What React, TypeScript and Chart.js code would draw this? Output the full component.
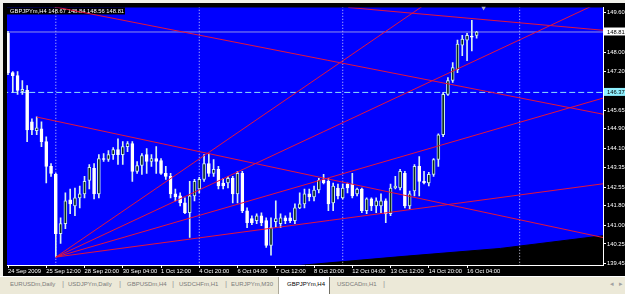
import React, { useEffect, useRef } from 'react';
import { Chart, registerables } from 'chart.js';

Chart.register(...registerables);

// ---- data (GBPJPYm, H4) ----
const OPEN = [148.76, 147.17, 147.05, 146.41, 146.45, 145.18, 144.82, 144.90, 144.38, 143.38,
  143.06, 140.67, 141.07, 142.03, 141.79, 142.11, 142.27, 142.82, 143.30, 142.27,
  143.70, 143.66, 143.86, 144.06, 143.86, 144.18, 144.30, 143.18, 143.42, 143.86,
  143.58, 143.70, 143.62, 143.10, 142.98, 142.27, 142.19, 141.91, 141.51, 142.19,
  142.47, 142.86, 143.50, 143.10, 143.26, 142.71, 142.71, 142.90, 142.27, 143.10,
  141.59, 141.27, 141.19, 141.39, 141.19, 140.19, 141.15, 141.07, 141.31, 141.31,
  141.19, 141.71, 141.87, 142.27, 142.15, 142.43, 142.82, 142.78, 141.91, 142.51,
  142.11, 142.67, 142.67, 142.27, 142.47, 141.59, 142.07, 141.79, 141.79, 141.99,
  141.47, 142.51, 142.51, 143.10, 141.79, 142.39, 143.38, 142.78, 142.71, 143.06,
  143.66, 144.66, 146.29, 146.85, 147.29, 148.28, 148.48, 148.64, 148.67];
const HIGH = [148.84, 147.21, 147.21, 146.85, 146.65, 145.30, 145.38, 145.18, 144.58, 143.50,
  143.10, 141.31, 142.31, 142.47, 142.51, 142.59, 142.98, 143.46, 143.50, 143.86,
  143.90, 144.02, 144.14, 144.50, 144.38, 144.38, 144.38, 143.58, 143.90, 144.10,
  143.86, 144.18, 143.70, 143.38, 143.10, 142.47, 142.31, 142.11, 142.78, 142.86,
  142.94, 143.86, 143.90, 143.66, 143.38, 142.90, 142.98, 142.98, 143.18, 143.18,
  141.71, 141.39, 141.47, 141.51, 141.31, 141.31, 141.99, 141.47, 141.39, 141.51,
  141.87, 142.31, 142.47, 142.47, 142.59, 142.90, 143.06, 142.90, 142.71, 142.67,
  142.67, 142.71, 143.10, 142.51, 142.51, 142.11, 142.11, 142.11, 142.27, 142.07,
  142.67, 142.98, 143.26, 143.18, 142.39, 143.46, 143.78, 143.18, 143.14, 143.70,
  144.70, 146.37, 146.97, 147.57, 148.48, 148.68, 148.76, 149.28, 148.84];
const LOW = [147.09, 146.37, 146.29, 146.29, 144.38, 144.66, 144.66, 144.18, 142.71, 142.98,
  139.72, 140.27, 140.87, 141.47, 141.39, 141.71, 142.11, 142.47, 142.07, 142.11,
  143.58, 143.58, 143.66, 143.46, 143.46, 143.98, 142.78, 143.10, 143.06, 143.10,
  143.38, 143.10, 143.06, 142.86, 142.11, 141.99, 141.79, 141.47, 140.51, 141.99,
  142.31, 142.78, 142.98, 142.98, 142.47, 142.47, 142.51, 141.91, 141.91, 141.51,
  140.91, 141.03, 141.07, 140.99, 140.11, 139.80, 140.91, 140.91, 141.07, 141.11,
  141.07, 141.67, 141.71, 141.99, 141.99, 142.31, 142.67, 141.59, 141.59, 142.07,
  142.07, 142.31, 142.11, 142.19, 141.51, 141.47, 141.59, 141.51, 141.51, 141.11,
  141.39, 142.47, 142.43, 141.71, 141.67, 142.19, 142.19, 142.67, 142.59, 142.98,
  143.38, 144.58, 146.25, 146.77, 147.17, 147.85, 147.65, 148.05, 148.56];
const CLOSE = [147.17, 147.05, 146.45, 146.49, 144.86, 144.86, 144.94, 144.38, 143.38, 143.10,
  140.67, 141.07, 141.99, 141.87, 142.11, 142.27, 142.78, 143.34, 142.27, 143.70,
  143.66, 143.86, 144.06, 143.86, 144.18, 144.30, 143.18, 143.42, 143.82, 143.58,
  143.70, 143.58, 143.10, 142.98, 142.27, 142.15, 141.91, 141.51, 142.19, 142.78,
  142.86, 143.50, 143.10, 143.26, 142.59, 142.59, 142.90, 142.27, 143.10, 141.59,
  141.11, 141.11, 141.39, 141.11, 140.19, 140.91, 141.27, 141.31, 141.19, 141.19,
  141.71, 141.87, 142.27, 142.15, 142.43, 142.82, 142.71, 141.87, 142.59, 142.19,
  142.51, 142.51, 142.19, 142.47, 141.59, 142.07, 141.79, 141.99, 141.99, 141.47,
  142.51, 142.59, 143.18, 141.79, 142.27, 143.38, 142.78, 142.71, 143.06, 143.66,
  144.66, 146.29, 146.85, 147.37, 148.32, 148.52, 148.68, 148.60, 148.81];

const TIME_TICK_INDEX = [0, 8, 16, 24, 32, 40, 48, 56, 64, 72, 80, 88, 96];
const TIME_LABELS = ['24 Sep 2009', '25 Sep 12:00', '28 Sep 20:00', '30 Sep 04:00', '1 Oct 12:00',
  '4 Oct 20:00', '6 Oct 04:00', '7 Oct 12:00', '8 Oct 20:00', '12 Oct 04:00', '13 Oct 12:00',
  '14 Oct 20:00', '16 Oct 04:00'];
const PRICE_TICKS = [149.60, 148.81, 148.00, 147.20, 146.37, 145.65, 144.90, 144.10, 143.35,
  142.55, 141.80, 141.00, 140.25, 139.45];
const BID_PRICE = 148.81;
const HLINE_PRICE = 146.37;
const SEPARATOR_BARS = [10, 40, 70, 107];
const SHIFT_MARK = [99.46, 149.78];
// trend lines as [[barIndex, price], [barIndex, price]]
const TRENDLINES = [
  [[9.36, 149.84], [124.43, 145.49]],
  [[71.16, 149.80], [124.43, 148.88]],
  [[6.03, 145.375], [124.43, 140.51]],
];
const FAN_ORIGIN = [10, 139.72];
const FAN_ENDS = [[90, 150.29], [124.43, 150.07], [124.43, 146.14], [124.43, 142.68]];
const SHADE_EDGE = [[57.2, 139.32], [82.19, 139.74], [103.0, 140.07], [126, 140.62]];
const TITLE = 'GBPJPYm,H4 148.67 148.84 148.56 148.81';
const TABS = ['EURUSDm,Daily', 'USDJPYm,Daily', 'GBPUSDm,H4', 'USDCHFm,H1', 'EURJPYm,M30', 'GBPJPYm,H4', 'USDCADm,H1'];
const ACTIVE_TAB = 'GBPJPYm,H4';

// ---- axis ranges ----
const X_MIN = -0.21;
const X_MAX = 124.43;
const Y_MIN = 139.40;
const Y_MAX = 149.80;

const FONT = "'Liberation Sans', Arial, sans-serif";
const FS = 5.8;
const RED = '#e3143c';

const TAB_LEFT = [10, 68, 127, 179, 231, 287, 337];
const SEP_LEFT = [62, 119, 172, 225, 383];

const bgPlugin = {
  id: 'mtBackground',
  beforeDraw(chart: any) {
    const { ctx, chartArea: a, width, height } = chart;
    ctx.save();
    ctx.fillStyle = '#000';
    ctx.fillRect(0, 0, width, height);
    ctx.fillStyle = '#0000ff';
    ctx.fillRect(a.left, a.top, a.right - a.left, a.bottom - a.top);
    ctx.restore();
  },
  beforeDatasetsDraw(chart: any) {
    const { ctx, chartArea: a } = chart;
    ctx.save();
    ctx.fillStyle = '#000';
    ctx.fillRect(a.left, a.top, 118, 7);
    ctx.fillStyle = '#fff';
    ctx.font = `${FS}px ${FONT}`;
    ctx.textBaseline = 'middle';
    ctx.fillText(TITLE, a.left + 3, a.top + 3.8);
    ctx.restore();
  },
};

export default function App() {
  const ref = useRef<HTMLCanvasElement>(null);

  useEffect(() => {
    const canvas = ref.current;
    if (!canvas) return;
    const idx = OPEN.map((_, i) => i);
    const lineBase = { type: 'line', pointRadius: 0, borderWidth: 1, tension: 0, fill: false };
    const datasets: any[] = [];

    datasets.push({
      ...lineBase, order: 20, borderColor: '#000', backgroundColor: '#000', fill: 'start',
      data: SHADE_EDGE.map(([x, y]) => ({ x, y })),
    });
    SEPARATOR_BARS.forEach((s) => datasets.push({
      ...lineBase, order: 15, borderColor: 'rgba(235,235,255,0.9)', borderDash: [1, 2],
      data: [{ x: s, y: Y_MIN - 1 }, { x: s, y: Y_MAX + 1 }],
    }));
    datasets.push({
      ...lineBase, order: 14, borderColor: 'rgba(170,170,230,0.85)',
      data: [{ x: X_MIN - 1, y: BID_PRICE }, { x: X_MAX + 1, y: BID_PRICE }],
    });
    datasets.push({
      ...lineBase, order: 14, borderColor: '#8fdcff', borderDash: [6, 3],
      data: [{ x: X_MIN - 1, y: HLINE_PRICE }, { x: X_MAX + 1, y: HLINE_PRICE }],
    });
    datasets.push({
      type: 'bar', order: 8, grouped: false, barThickness: 1, borderWidth: 0,
      backgroundColor: '#d8f0f0',
      data: idx.map((i) => ({ x: i, y: [LOW[i], HIGH[i]] })),
    });
    datasets.push({
      type: 'bar', order: 7, grouped: false, barThickness: 3, borderWidth: 1, borderSkipped: false,
      minBarLength: 1,
      borderColor: (c: any) => (CLOSE[c.dataIndex] >= OPEN[c.dataIndex] ? '#cdeeee' : '#ffffff'),
      backgroundColor: (c: any) => (CLOSE[c.dataIndex] >= OPEN[c.dataIndex] ? '#0b2a1c' : '#ffffff'),
      data: idx.map((i) => ({ x: i, y: [OPEN[i], CLOSE[i]] })),
    });
    TRENDLINES.forEach((seg) => datasets.push({
      ...lineBase, order: 3, borderColor: RED,
      data: seg.map(([x, y]) => ({ x, y })),
    }));
    FAN_ENDS.forEach(([x, y]) => datasets.push({
      ...lineBase, order: 3, borderColor: RED,
      data: [{ x: FAN_ORIGIN[0], y: FAN_ORIGIN[1] }, { x, y }],
    }));
    datasets.push({
      type: 'line', order: 1, showLine: false, clip: false,
      pointStyle: 'triangle', rotation: 180, pointRadius: 2.5, pointBorderWidth: 0,
      pointBackgroundColor: '#b0b0c0', borderColor: '#b0b0c0',
      data: [{ x: SHIFT_MARK[0], y: SHIFT_MARK[1] }],
    });

    const isHi = (v: number) => v === BID_PRICE || v === HLINE_PRICE;

    const chart = new Chart(canvas, {
      type: 'bar',
      data: { datasets },
      options: {
        animation: false,
        responsive: false,
        maintainAspectRatio: false,
        devicePixelRatio: 1,
        events: [],
        layout: { padding: { left: 1, top: 1, right: 0, bottom: 0 } },
        plugins: { legend: { display: false }, tooltip: { enabled: false }, title: { display: false } },
        scales: {
          x: {
            type: 'linear', min: X_MIN, max: X_MAX, offset: false,
            grid: { display: true, drawOnChartArea: false, drawTicks: true, tickLength: 3, color: '#ffffff', offset: false },
            border: { display: true, color: '#ffffff' },
            afterBuildTicks: (s: any) => { s.ticks = TIME_TICK_INDEX.map((v) => ({ value: v })); },
            afterFit: (s: any) => { s.height = 11; },
            ticks: {
              autoSkip: false, maxRotation: 0, minRotation: 0, align: 'start', padding: 0,
              color: '#ffffff', font: { family: FONT, size: FS },
              callback: (v: any) => TIME_LABELS[TIME_TICK_INDEX.indexOf(Number(v))],
            },
          },
          y: {
            type: 'linear', position: 'right', min: Y_MIN, max: Y_MAX,
            grid: { display: true, drawOnChartArea: false, drawTicks: true, tickLength: 3, color: '#ffffff' },
            border: { display: true, color: '#ffffff' },
            afterBuildTicks: (s: any) => { s.ticks = PRICE_TICKS.map((v) => ({ value: v })); },
            afterFit: (s: any) => { s.width = 22; },
            ticks: {
              autoSkip: false, padding: 1,
              font: { family: FONT, size: FS },
              color: (c: any) => (isHi(c.tick.value) ? '#000000' : '#ffffff'),
              showLabelBackdrop: (c: any) => isHi(c.tick.value),
              backdropColor: (c: any) => (c.tick.value === BID_PRICE ? '#ffffff' : '#8ff0ff'),
              backdropPadding: { left: 3, right: 4, top: 1, bottom: 0 },
              callback: (v: any) => Number(v).toFixed(2),
            },
          },
        },
      } as any,
      plugins: [bgPlugin],
    } as any);
    return () => chart.destroy();
  }, []);

  return (
    <div style={{ position: 'fixed', left: 0, top: 0, width: 625, height: 294, background: '#f1f0ea', overflow: 'hidden', fontFamily: FONT }}>
      <canvas ref={ref} width={622} height={273} style={{ position: 'absolute', left: 3, top: 3, width: 622, height: 273 }} />
      <div style={{ position: 'absolute', left: 0, top: 276, width: 625, height: 18, background: '#ece9d8', borderTop: '1px solid #ffffff', boxSizing: 'border-box' }}>
        <div style={{ position: 'absolute', left: 278, top: 0, width: 52, height: 18, background: '#ffffff', borderLeft: '1px solid #aca899', borderRight: '1px solid #716f64', boxSizing: 'border-box' }} />
        {TABS.map((t, i) => (
          <span key={t + i} style={{ position: 'absolute', left: TAB_LEFT[i], top: 3, fontSize: 6, lineHeight: '8px', color: t === ACTIVE_TAB ? '#000000' : '#7a7a7a', whiteSpace: 'nowrap' }}>{t}</span>
        ))}
        {SEP_LEFT.map((x, i) => (
          <span key={'s' + i} style={{ position: 'absolute', left: x, top: 2, fontSize: 8, lineHeight: '9px', color: '#9a9a9a' }}>|</span>
        ))}
        <span style={{ position: 'absolute', left: 610, top: 3, fontSize: 7, lineHeight: '8px', color: '#a0a0a0', fontFamily: 'DejaVu Sans' }}>◂</span>
        <span style={{ position: 'absolute', left: 619, top: 3, fontSize: 7, lineHeight: '8px', color: '#a0a0a0', fontFamily: 'DejaVu Sans' }}>▸</span>
      </div>
    </div>
  );
}
